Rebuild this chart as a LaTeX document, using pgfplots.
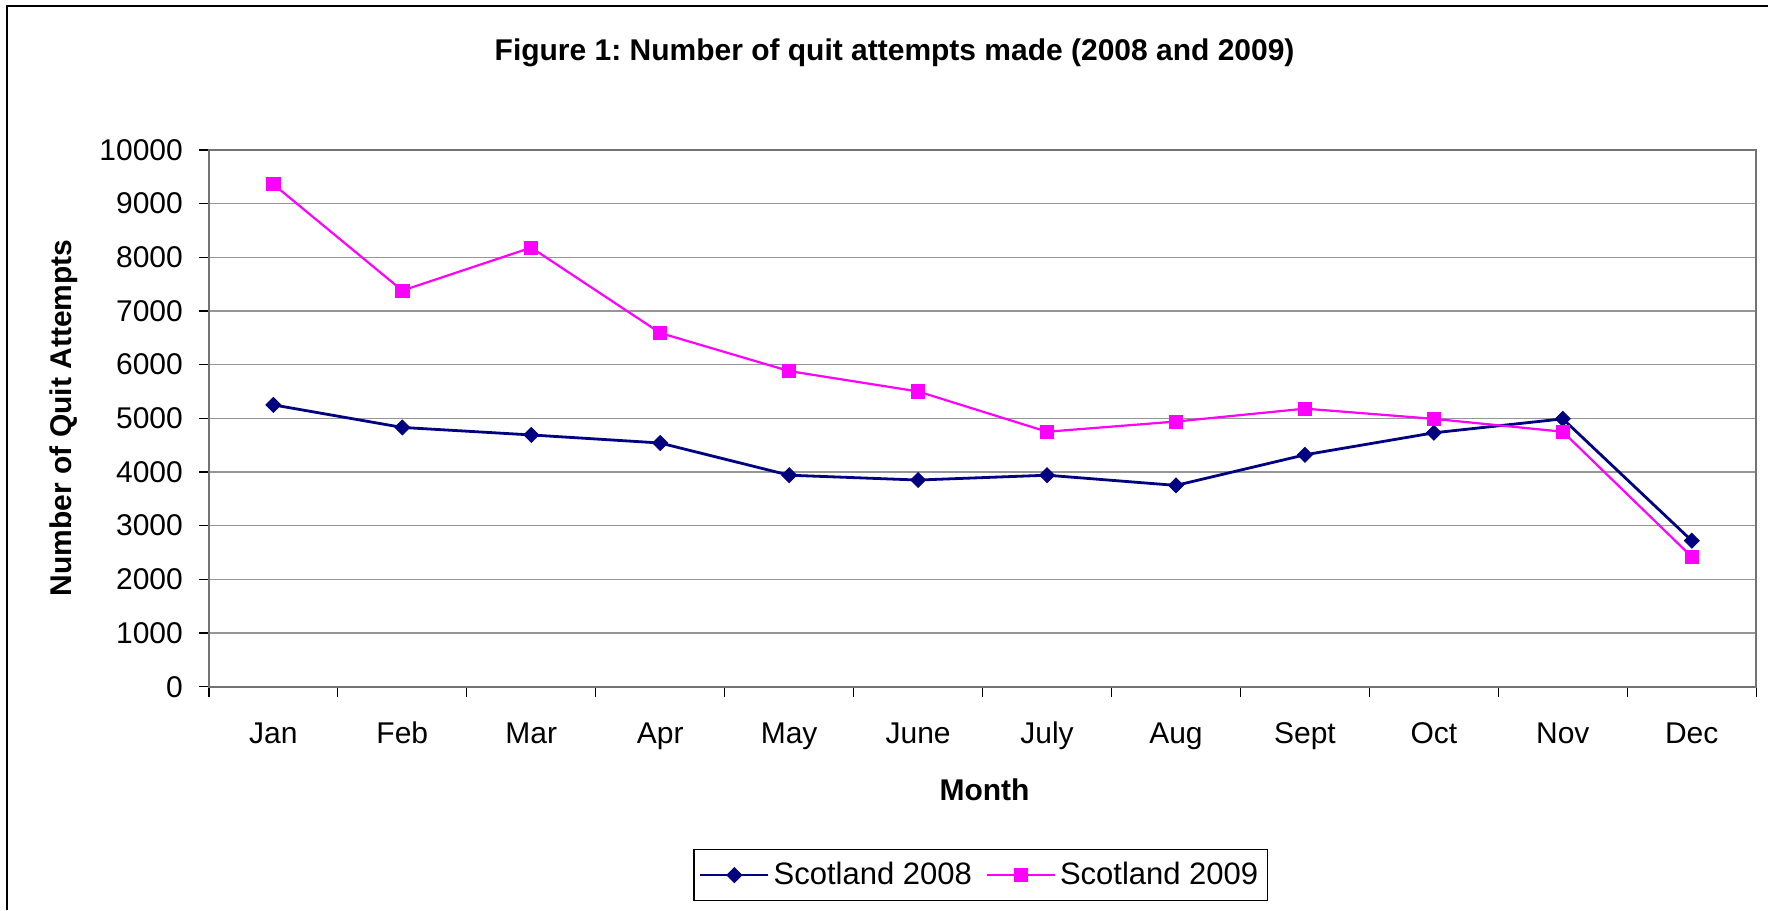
\documentclass[border=0pt]{standalone}
\usepackage{fontspec}
\setmainfont{Liberation Sans}
\usepackage{pgfplots}
\pgfplotsset{compat=1.18}

\definecolor{navy08}{RGB}{0,0,128}
\definecolor{mag09}{RGB}{255,0,255}
\definecolor{gridgray}{RGB}{150,150,150}

\begin{document}
\frenchspacing
\begin{tikzpicture}
% canvas and the chart frame (top and left edges)
\path (0,0) rectangle (884.5pt,455pt);
\draw[black,line width=0.8pt] (3.6pt,0) -- (3.6pt,452pt) -- (884.5pt,452pt);

\begin{axis}[
  at={(104.5pt,111.5pt)}, anchor=south west,
  scale only axis,
  width=774pt, height=268.5pt,
  xmin=-0.5, xmax=11.5,
  ymin=0, ymax=10000,
  xtick={0,...,11},
  xticklabels={Jan,Feb,Mar,Apr,May,June,July,Aug,Sept,Oct,Nov,Dec},
  minor xtick={-0.5,0.5,...,11.5},
  ytick={0,1000,...,10000},
  major x tick style={draw=none},
  tick align=outside,
  tick pos=left,
  major tick length=5pt,
  minor tick length=5pt,
  every tick/.style={black,line width=0.6pt},
  minor x tick style={black,line width=0.6pt},
  ymajorgrids,
  major grid style={gridgray,line width=0.7pt},
  axis line style={draw=gray!90!black,line width=1.1pt},
  ticklabel style={font=\fontsize{15}{18}\selectfont},
  xticklabel style={text height=11pt,text depth=3pt,yshift=-8.8pt},
  yticklabel style={xshift=-4.5pt},
  /pgf/number format/assume math mode=true,
  /pgf/number format/set thousands separator={},
  scaled y ticks=false,
  legend columns=2,
  legend style={at={(0.4987,-0.351)},anchor=center,
    draw=black,line width=0.6pt,
    font=\fontsize{15.5}{18}\selectfont,
    inner xsep=2.5pt,inner ysep=4.5pt,
    /tikz/every even column/.append style={column sep=5pt}},
  legend image code/.code={%
    \draw[mark repeat=2,mark phase=2,#1] plot coordinates {(0pt,0pt) (17pt,0pt) (34pt,0pt)};},
  clip=false,
]
\addplot[navy08,line width=1.4pt,mark=square*,mark size=2.65pt,
  mark options={fill=navy08,draw=navy08,line width=0.4pt,rotate=45}]
  coordinates {(0,5250) (1,4830) (2,4690) (3,4540) (4,3940) (5,3850)
               (6,3940) (7,3750) (8,4320) (9,4730) (10,4990) (11,2720)};
\addlegendentry{Scotland 2008}
\addplot[mag09,line width=1.1pt,mark=square*,mark size=3.3pt,
  mark options={fill=mag09,draw=mag09,line width=0.4pt}]
  coordinates {(0,9360) (1,7380) (2,8180) (3,6590) (4,5880) (5,5500)
               (6,4750) (7,4940) (8,5180) (9,4990) (10,4750) (11,2420)};
\addlegendentry{Scotland 2009}
\end{axis}

% titles
\node[font=\bfseries\fontsize{15}{18}\selectfont] at (447.5pt,428.5pt)
  {Figure 1: Number of quit attempts made (2008 and 2009)};
\node[font=\bfseries\fontsize{15}{18}\selectfont] at (492.5pt,60pt) {Month};
\node[font=\bfseries\fontsize{15}{18}\selectfont,rotate=90] at (32pt,246pt)
  {Number of Quit Attempts};
\end{tikzpicture}
\end{document}
